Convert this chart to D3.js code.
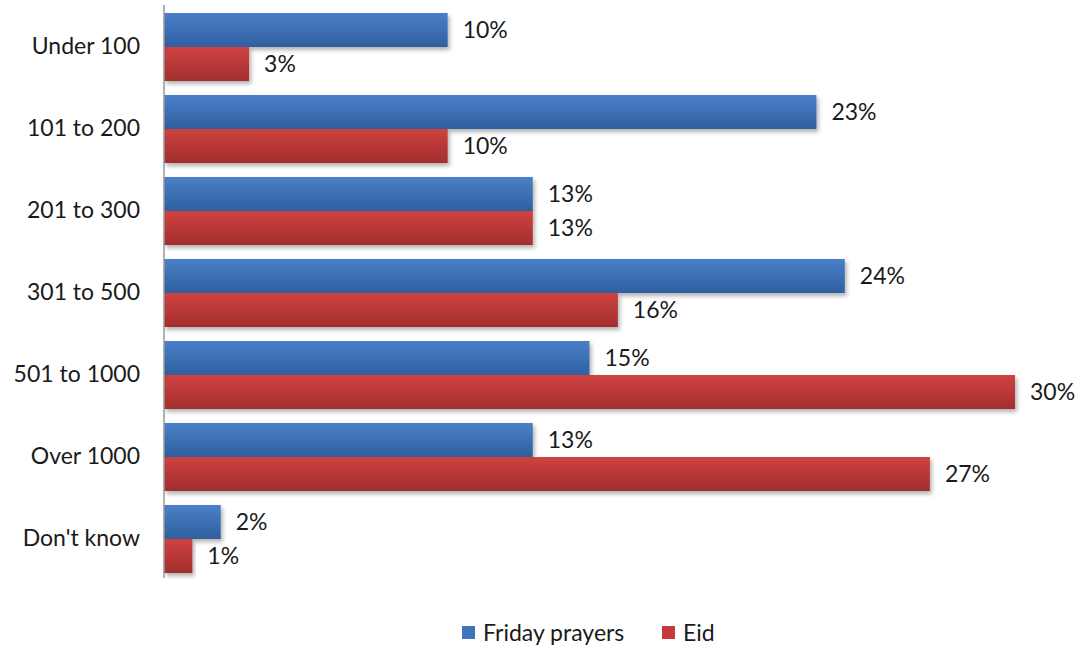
<!DOCTYPE html>
<html><head><meta charset="utf-8">
<script src="https://cdn.jsdelivr.net/npm/d3@7"></script>
<style>body{margin:0;background:#fff}svg{display:block}text{font-family:Lato,"Open Sans",sans-serif;fill:#1a1a1a}</style>
</head><body><svg id="c" width="1080" height="645"></svg>
<script>
const categories = ["Under 100","101 to 200","201 to 300","301 to 500","501 to 1000","Over 1000","Don't know"];
const seriesNames = ["Friday prayers","Eid"];
const friday = [10,23,13,24,15,13,2];
const eid = [3,10,13,16,30,27,1];
const colors = {"Friday prayers":["#4a80c8","#2f5f9f"],"Eid":["#cf4240","#a22e2d"]};
const legendColors = {"Friday prayers":"#3f75bd","Eid":"#c63b39"};

const svg = d3.select("#c");
const defs = svg.append("defs");
seriesNames.forEach((s,i)=>{
  const g = defs.append("linearGradient").attr("id","g"+i).attr("x1",0).attr("x2",0).attr("y1",0).attr("y2",1);
  g.append("stop").attr("offset","0%").attr("stop-color",colors[s][0]);
  g.append("stop").attr("offset","100%").attr("stop-color",colors[s][1]);
});
const f = defs.append("filter").attr("id","sh").attr("x","-5%").attr("y","-20%").attr("width","115%").attr("height","160%");
f.append("feDropShadow").attr("dx",2).attr("dy",3).attr("stdDeviation",2).attr("flood-color","#000").attr("flood-opacity",0.3);

const x0 = 164;
const x = d3.scaleLinear().domain([0,30]).range([x0, x0+851]);
const pad = 14/82;
const y = d3.scaleBand().domain(categories).range([6,580]).paddingInner(pad).paddingOuter(pad/2);
const ySub = d3.scaleBand().domain(seriesNames).range([0,y.bandwidth()]);

const data = categories.map((c,i)=>({c, vals:[friday[i],eid[i]]}));
const grp = svg.selectAll("g.cat").data(data).join("g").attr("transform",d=>`translate(0,${y(d.c)})`);
seriesNames.forEach((s,si)=>{
  grp.append("rect").attr("x",x(0)).attr("y",ySub(s)).attr("width",d=>x(d.vals[si])-x(0)).attr("height",ySub.bandwidth())
    .attr("fill",`url(#g${si})`).attr("filter","url(#sh)");
  grp.append("text").attr("x",d=>x(d.vals[si])+15).attr("y",ySub(s)+ySub.bandwidth()/2).attr("dy","0.36em")
    .attr("font-size",23).text(d=>d.vals[si]+"%");
});

const axis = d3.axisLeft(y).tickSize(0).tickPadding(24);
const ax = svg.append("g").attr("transform",`translate(${x0},0)`).call(axis);
ax.select(".domain").attr("stroke","#999").attr("stroke-width",1.5).attr("d","M0,5V578");
ax.selectAll("text").attr("font-size",23).attr("fill","#1a1a1a").style("font-family","Lato,'Open Sans',sans-serif");

const leg = svg.append("g");
const legX = [462,662];
seriesNames.forEach((s,i)=>{
  leg.append("rect").attr("x",legX[i]).attr("y",626).attr("width",13).attr("height",13).attr("fill",legendColors[s]);
  leg.append("text").attr("x",legX[i]+21).attr("y",641).attr("font-size",23).text(s);
});
</script></body></html>
